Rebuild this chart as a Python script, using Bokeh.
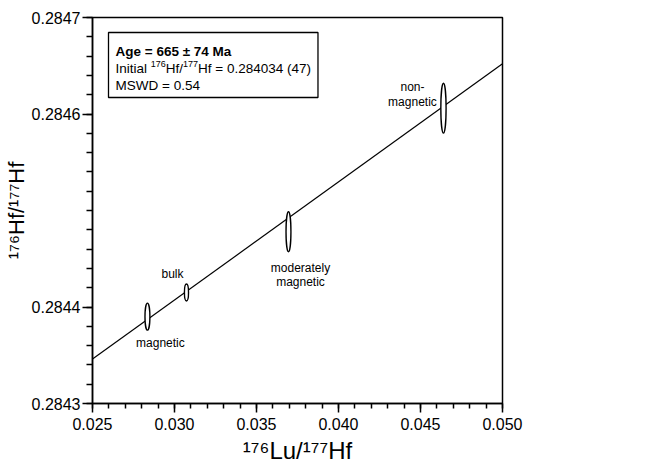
from bokeh.plotting import figure
from bokeh.models import (Range1d, FixedTicker, PrintfTickFormatter, Label, BoxAnnotation,
                          ColumnDataSource, Title)
from bokeh.embed import file_html
from bokeh.resources import INLINE

FONT = "Liberation Sans"

# ---------------- data ----------------
fractions = ["magnetic", "bulk", "moderately magnetic", "non-magnetic"]
fraction_lines = [["magnetic"], ["bulk"], ["moderately", "magnetic"], ["non-", "magnetic"]]
lu_hf = [0.02835, 0.03073, 0.03695, 0.04640]               # 176Lu/177Hf
hf_hf = [0.284390, 0.284415, 0.284478, 0.284606]           # 176Hf/177Hf
lu_hf_err = [0.00030, 0.00025, 0.00030, 0.00032]           # ellipse full width
hf_hf_err = [0.000028, 0.0000176, 0.0000415, 0.0000518]    # ellipse full height

isochron_x = [0.025, 0.050]
isochron_y = [0.284346, 0.284652]

x_ticks = [0.025, 0.030, 0.035, 0.040, 0.045, 0.050]
y_ticks = [0.2843, 0.2844, 0.2846, 0.2847]
x_minor = [round(0.025 + 0.001 * i, 4) for i in range(26)]
y_minor = [round(0.2843 + 0.00002 * i, 6) for i in range(21)]

x_title = "\u00b9\u2077\u2076Lu/\u00b9\u2077\u2077Hf"
y_title = "\u00b9\u2077\u2076Hf/\u00b9\u2077\u2077Hf"
age_text = "Age = 665 \u00b1 74 Ma"
initial_value = "0.284034 (47)"
mswd_text = "MSWD = 0.54"

# ---------------- figure ----------------
W, H = 651, 469
p = figure(width=W, height=H, output_backend="svg", toolbar_location=None,
           x_range=Range1d(0.025, 0.050), y_range=Range1d(0.2843, 0.2847),
           min_border_left=92, min_border_right=149, min_border_top=17, min_border_bottom=66)
p.xgrid.visible = False
p.ygrid.visible = False
p.background_fill_color = "white"
p.border_fill_color = "white"
p.outline_line_color = "black"
p.outline_line_width = 1.5
p.outline_line_alpha = 1.0

for ax in (p.xaxis[0], p.yaxis[0]):
    ax.axis_line_color = "black"
    ax.axis_line_width = 1.5
    ax.major_tick_line_color = "black"
    ax.minor_tick_line_color = "black"
    ax.major_tick_line_width = 1.5
    ax.minor_tick_line_width = 1.5
    ax.major_tick_in = 0
    ax.minor_tick_in = 0
    ax.major_label_text_font = FONT
    ax.major_label_text_font_size = "16px"
    ax.major_label_text_color = "black"
    ax.axis_label_text_font = FONT
    ax.axis_label_text_font_style = "normal"
    ax.axis_label_text_color = "black"

p.xaxis.ticker = FixedTicker(ticks=x_ticks, minor_ticks=x_minor)
p.yaxis.ticker = FixedTicker(ticks=y_ticks, minor_ticks=y_minor)
p.xaxis.formatter = PrintfTickFormatter(format="%.3f")
p.yaxis.formatter = PrintfTickFormatter(format="%.4f")
p.xaxis.major_tick_out = 9
p.xaxis.minor_tick_out = 5
p.yaxis.major_tick_out = 10
p.yaxis.minor_tick_out = 6
p.xaxis.major_label_standoff = 5
p.yaxis.major_label_standoff = 2
p.yaxis.axis_label = y_title
p.yaxis.axis_label_text_font_size = "22px"
p.yaxis.axis_label_standoff = 0

# x-axis title, slightly right of centre as in the reference
p.add_layout(Title(text=x_title, align="center", offset=22, standoff=4,
                   text_font=FONT, text_font_size="24px", text_font_style="normal",
                   text_color="black"), "below")

# isochron
p.line(isochron_x, isochron_y, line_color="black", line_width=1.2)

# error ellipses
src = ColumnDataSource(dict(x=lu_hf, y=hf_hf, w=lu_hf_err, h=hf_hf_err))
p.ellipse(x="x", y="y", width="w", height="h", source=src,
          fill_color="white", line_color="black", line_width=1.4)

# fraction labels (offsets in px relative to ellipse centre)
label_offsets = [[(13, 26)], [(-14, -19)], [(12, 36), (12, 50)], [(-31, -21), (-31, -6)]]
tx, ty, tt, xo, yo = [], [], [], [], []
for i, lines in enumerate(fraction_lines):
    for line, (dx, dy) in zip(lines, label_offsets[i]):
        tx.append(lu_hf[i]); ty.append(hf_hf[i]); tt.append(line)
        xo.append(dx); yo.append(dy)
tsrc = ColumnDataSource(dict(x=tx, y=ty, text=tt, xo=xo, yo=yo))
p.text(x="x", y="y", text="text", x_offset="xo", y_offset="yo", source=tsrc,
       text_font={"value": FONT}, text_font_size={"value": "12px"}, text_color="black",
       text_align="center", text_baseline="alphabetic")

# ---------------- result box (rich text inside the frame) ----------------
CW = {'0': .556, '1': .556, '2': .556, '3': .556, '4': .556, '5': .556, '6': .556, '7': .556,
      '8': .556, '9': .556, ' ': .278, '.': .278, '/': .278, '(': .333, ')': .333, '=': .584,
      'H': .722, 'f': .278, 'I': .278, 'n': .556, 'i': .222, 't': .278, 'a': .556, 'l': .222}


def tw(text, size):
    return sum(CW.get(c, .556) for c in text) * size


def rich(parts, x, y, bold=False):
    pos = x
    for text, size, rise in parts:
        p.add_layout(Label(x=pos, y=y + rise, x_units="screen", y_units="screen", text=text,
                           text_font=FONT, text_font_size=f"{size}px",
                           text_font_style="bold" if bold else "normal",
                           text_align="left", text_baseline="alphabetic", text_color="black"))
        pos += tw(text, size)


FS = 13.5
line2 = [("Initial ", FS, 0), ("176", 9, 5), ("Hf/", FS, 0), ("177", 9, 5),
         ("Hf = " + initial_value, FS, 0)]
l2w = sum(tw(t, s) for t, s, _ in line2)
tx0 = 23
p.add_layout(BoxAnnotation(left=16, right=tx0 + l2w + 7, top=371, bottom=306,
                           left_units="screen", right_units="screen",
                           top_units="screen", bottom_units="screen",
                           fill_color="white", fill_alpha=1.0, line_color="black",
                           line_width=1.3, line_alpha=1.0))
rich([(age_text, FS, 0)], tx0, 352, bold=True)
rich(line2, tx0, 335)
rich([(mswd_text, FS, 0)], tx0, 318)

open("out.html", "w").write(file_html(p, INLINE))
